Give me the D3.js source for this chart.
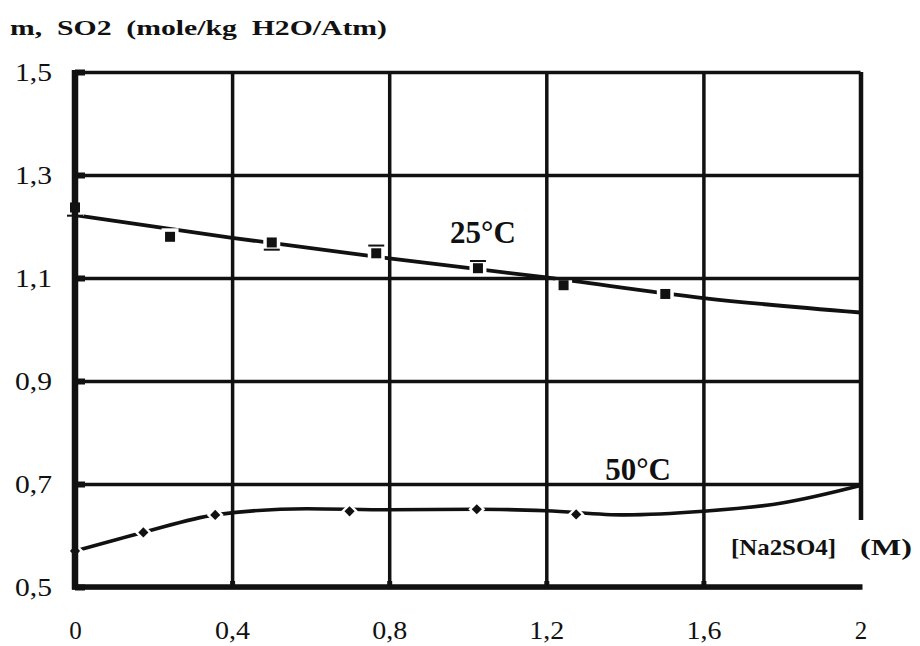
<!DOCTYPE html>
<html><head><meta charset="utf-8">
<script src="https://cdn.jsdelivr.net/npm/d3@7"></script>
<style>
html,body{margin:0;padding:0;background:#fff;}
svg{display:block;}
text{font-family:"Liberation Serif","Times New Roman",serif;}
</style></head><body>
<svg id="chart" width="920" height="646"></svg>
<script>
// ---- data ----
const xTicks = [0, 0.4, 0.8, 1.2, 1.6, 2];
const xTickLabels = ["0", "0,4", "0,8", "1,2", "1,6", "2"];
const yTicks = [0.5, 0.7, 0.9, 1.1, 1.3, 1.5];
const yTickLabels = ["0,5", "0,7", "0,9", "1,1", "1,3", "1,5"];

// 25 °C measured points
const conc25 = [0, 0.242, 0.501, 0.767, 1.026, 1.244, 1.503];
const m25 = [1.237, 1.180, 1.169, 1.148, 1.119, 1.086, 1.069];
const errLow25 = [1.221, null, 1.155, null, null, null, null];
const errHigh25 = [null, null, null, 1.163, 1.133, 1.100, null];
// 25 °C fitted curve
const fit25X = [0, 0.4, 0.8, 1.2, 1.6, 2];
const fit25Y = [1.222, 1.178, 1.138, 1.101, 1.061, 1.033];

// 50 °C measured points
const conc50 = [0, 0.174, 0.357, 0.699, 1.023, 1.276];
const m50 = [0.570, 0.606, 0.640, 0.647, 0.651, 0.641];
// 50 °C fitted curve
const fit50X = [0, 0.174, 0.357, 0.59, 0.8, 1.023, 1.2, 1.4, 1.6, 1.8, 2];
const fit50Y = [0.570, 0.606, 0.640, 0.652, 0.650, 0.651, 0.648, 0.640, 0.647, 0.663, 0.697];

const seriesLabels = ["25°C", "50°C"];
const titleText = "m,  SO2  (mole/kg  H2O/Atm)";
const xAxisLabel = ["[Na2SO4]", "(M)"];

// ---- chart ----
const ink = "#111";
const serif = '"Liberation Serif","Times New Roman",serif';
const x = d3.scaleLinear().domain([0, 2]).range([75, 860.5]);
const y = d3.scaleLinear().domain([0.5, 1.5]).range([587, 72]);
const svg = d3.select("#chart");
const plotW = x(2) - x(0);
const plotH = y(0.5) - y(1.5);
const rightBorderEnd = 0.63;

// title
svg.append("text")
  .attr("x", 10).attr("y", 35)
  .attr("font-size", 20).attr("font-weight", "bold").attr("fill", ink)
  .style("white-space", "pre")
  .attr("textLength", 377).attr("lengthAdjust", "spacingAndGlyphs")
  .text(titleText);

// data lines (drawn first, then white halos cut them near markers)
const line = d3.line().x(d => x(d[0])).y(d => y(d[1])).curve(d3.curveMonotoneX);
const dataLayer = svg.append("g");
dataLayer.append("path")
  .datum(fit25X.map((v, i) => [v, fit25Y[i]]))
  .attr("d", line).attr("fill", "none").attr("stroke", ink).attr("stroke-width", 3.8);
dataLayer.append("path")
  .datum(fit50X.map((v, i) => [v, fit50Y[i]]))
  .attr("d", line).attr("fill", "none").attr("stroke", ink).attr("stroke-width", 3.6);

// halos
const halo = svg.append("g");
halo.selectAll("path.h25").data(conc25).join("path")
  .attr("transform", (d, i) => `translate(${x(d)},${y(m25[i])})`)
  .attr("d", d3.symbol(d3.symbolSquare, 17 * 17)()).attr("fill", "#fff");
halo.selectAll("path.h50").data(conc50).join("path")
  .attr("transform", (d, i) => `translate(${x(d)},${y(m50[i])}) rotate(45)`)
  .attr("d", d3.symbol(d3.symbolSquare, 12 * 12)()).attr("fill", "#fff");

// horizontal grid + y labels
const gY = svg.append("g")
  .attr("transform", `translate(${x(0)},0)`)
  .style("color", ink)
  .call(d3.axisLeft(y).tickValues(yTicks).tickFormat((d, i) => yTickLabels[i])
    .tickSize(-plotW).tickPadding(23));
gY.attr("font-family", serif).attr("font-size", 25);
gY.select(".domain").remove();
gY.selectAll(".tick line").attr("stroke-width", 3.5);
gY.selectAll(".tick text").attr("textLength", 37).attr("lengthAdjust", "spacingAndGlyphs");

// left stub ticks
const gYs = svg.append("g").attr("transform", `translate(${x(0)},0)`).style("color", ink)
  .call(d3.axisLeft(y).tickValues(yTicks).tickFormat("").tickSize(-10));
gYs.select(".domain").remove();
gYs.selectAll(".tick line").attr("stroke-width", 6);

// vertical grid + x labels
const gX = svg.append("g")
  .attr("transform", `translate(0,${y(0.5)})`)
  .style("color", ink)
  .call(d3.axisBottom(x).tickValues(xTicks).tickFormat((d, i) => xTickLabels[i])
    .tickSize(-plotH).tickPadding(34));
gX.attr("font-family", serif).attr("font-size", 25);
gX.select(".domain").remove();
gX.selectAll(".tick line")
  .attr("stroke-width", d => d === 2 ? 4.5 : 3.5)
  .attr("y1", d => d === 2 ? -(y(0.5) - y(rightBorderEnd)) : 0)
  .attr("y2", -plotH);
gX.selectAll(".tick text").filter((d, i) => xTickLabels[i].length > 1)
  .attr("textLength", 35).attr("lengthAdjust", "spacingAndGlyphs");

// bottom stub ticks
const gXs = svg.append("g").attr("transform", `translate(0,${y(0.5)})`).style("color", ink)
  .call(d3.axisBottom(x).tickValues(xTicks.slice(1, -1)).tickFormat("").tickSize(-6));
gXs.select(".domain").remove();
gXs.selectAll(".tick line").attr("stroke-width", 5);

// main axes
svg.append("line").attr("x1", x(0)).attr("x2", x(0)).attr("y1", y(1.5) - 2).attr("y2", y(0.5) + 2.5)
  .attr("stroke", ink).attr("stroke-width", 6.5);
svg.append("line").attr("x1", x(0) - 3).attr("x2", x(2) + 2).attr("y1", y(0.5)).attr("y2", y(0.5))
  .attr("stroke", ink).attr("stroke-width", 5.5);

// markers
const mk = svg.append("g");
mk.selectAll("path.m25").data(conc25).join("path")
  .attr("transform", (d, i) => `translate(${x(d)},${y(m25[i])})`)
  .attr("d", d3.symbol(d3.symbolSquare, 100)()).attr("fill", ink);
mk.selectAll("path.m50").data(conc50).join("path")
  .attr("transform", (d, i) => `translate(${x(d)},${y(m50[i])}) rotate(45)`)
  .attr("d", d3.symbol(d3.symbolSquare, 52)()).attr("fill", ink);

// error caps
const caps = [];
conc25.forEach((c, i) => {
  if (errLow25[i] != null) caps.push([c, errLow25[i]]);
  if (errHigh25[i] != null) caps.push([c, errHigh25[i]]);
});
mk.selectAll("line.cap").data(caps).join("line")
  .attr("x1", d => x(d[0]) - 8).attr("x2", d => x(d[0]) + 8)
  .attr("y1", d => y(d[1])).attr("y2", d => y(d[1]))
  .attr("stroke", ink).attr("stroke-width", 2);

// annotations
svg.append("text").attr("x", x(0.955)).attr("y", y(1.168))
  .attr("font-size", 31).attr("font-weight", "bold").attr("fill", ink).text(seriesLabels[0]);
svg.append("text").attr("x", x(1.35)).attr("y", y(0.707))
  .attr("font-size", 31).attr("font-weight", "bold").attr("fill", ink).text(seriesLabels[1]);
svg.append("text").attr("x", 731).attr("y", 555)
  .attr("font-size", 23).attr("font-weight", "bold").attr("fill", ink)
  .attr("textLength", 105).attr("lengthAdjust", "spacingAndGlyphs").text(xAxisLabel[0]);
svg.append("text").attr("x", 860).attr("y", 555)
  .attr("font-size", 23).attr("font-weight", "bold").attr("fill", ink)
  .attr("textLength", 52).attr("lengthAdjust", "spacingAndGlyphs").text(xAxisLabel[1]);
</script>
</body></html>
